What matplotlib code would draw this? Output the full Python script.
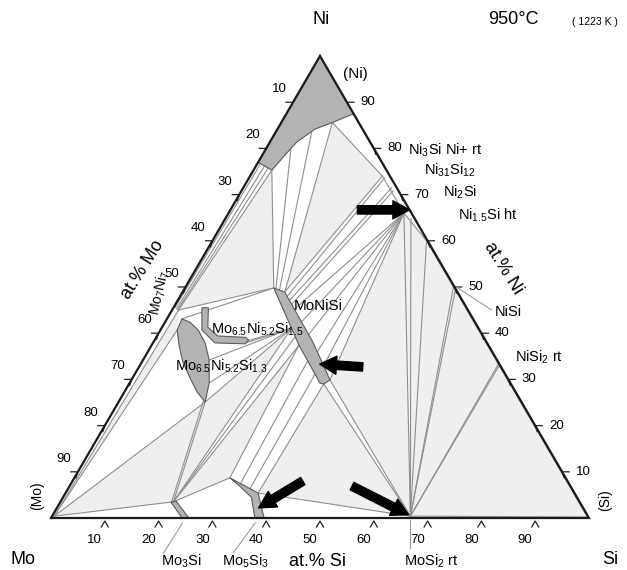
import numpy as np
import matplotlib
matplotlib.use("Agg")
import matplotlib.pyplot as plt
from matplotlib.patches import Polygon

plt.rcParams['font.family'] = ['Liberation Sans', 'DejaVu Sans']
plt.rcParams['mathtext.fontset'] = 'custom'
plt.rcParams['mathtext.rm'] = 'Liberation Sans'
plt.rcParams['mathtext.it'] = 'Liberation Sans'

# compositions are (at.% Si, at.% Ni); Mo is the balance
ni_ss = [(0, 100), (0, 77), (3.4, 75.3), (4.2, 78.5), (5.0, 81.4), (7.0, 84.2), (9.5, 85.6), (12.5, 87.5)]
mo3si = [(24.4, 0), (25.6, 0), (21.5, 3.6), (20.6, 3.4)]
mo5si3 = [(28.9, 8.7), (35.8, 5.4), (39.6, 0), (37.9, 0), (35.0, 4.5), (31.5, 7.0)]
monisi = [(16.5, 49.8), (19.0, 48.9), (29.8, 37.9), (36.9, 29.9), (36.2, 29.0), (35.4, 29.2), (27.4, 37.4)]
tau_upper = [(5.3, 45.5), (7.7, 40.7), (11.5, 37.9), (17.2, 37.7), (17.5, 38.5), (16.6, 39.1),
             (11.3, 39.4), (8.5, 41.3), (6.5, 45.5)]
tau_lower = [(2.8, 43.1), (4.6, 42.4), (7.0, 40.7), (9.7, 37.9), (12.3, 34.2), (14.8, 29.2), (16.1, 25.1),
             (13.5, 27.3), (10.7, 30.3), (7.6, 33.8), (5.1, 37.4), (3.1, 40.7)]

# invariant points
MO = (0.4, 0.4)
SI = (99.6, 0.2)
MO3SI = (21.0, 3.5)
MO5SI3_T = (28.9, 8.7)
MO5SI3_R = (35.8, 5.4)
MOSI2 = (66.6, 0.4)
NISI2 = (66.5, 33.3)
NISI = (49.8, 50.0)
NI3SI2 = (39.8, 60.0)
NI2SI = (32.6, 66.0)
NI31SI12 = (27.6, 71.5)
NI3SI = (24.6, 74.0)
NISS_L = (3.4, 75.3)
NISS_R = (9.5, 85.6)
DELTA = (1.2, 45.0)
TAU_TOP = (2.8, 43.1)
TAU_LEFT = (3.1, 40.7)
TAU_BOT = (16.1, 25.1)
MONISI_T = (16.5, 49.8)
MONISI_TR = (19.0, 48.9)
MONISI_B = (36.9, 29.9)
MONISI_BL = (36.2, 29.0)
MONISI_L = (24.2, 41.1)
MONISI_L2 = (27.4, 37.4)

three_phase = [
    (NISS_L, DELTA, MONISI_T),
    (NISS_R, NI3SI, MONISI_TR),
    (NI2SI, MONISI_B, MOSI2),
    (MONISI_BL, MO5SI3_R, MOSI2),
    (MO3SI, MO5SI3_T, MONISI_L2),
    (MO3SI, TAU_BOT, MONISI_L),
    (MO, MO3SI, TAU_BOT),
    (MO, DELTA, TAU_LEFT),
    (MOSI2, NI2SI, NI3SI2),
    (MOSI2, NI3SI2, NISI),
    (MOSI2, NISI, NISI2),
    (MOSI2, NISI2, SI),
]

tie_lines = [
    ((0.6, 76.8), (0.3, 45.6)), ((1.6, 76.2), (0.7, 45.3)), ((2.5, 75.7), (1.0, 45.1)),
    (NISS_L, DELTA), (NISS_L, MONISI_T), (DELTA, MONISI_T), (TAU_TOP, MONISI_T),
    ((4.6, 80.0), (17.0, 49.6)), ((6.6, 83.8), (17.8, 49.3)),
    (NISS_R, MONISI_TR), (NISS_R, NI3SI), ((12.5, 87.4), (24.8, 75.1)),
    (NI3SI, MONISI_TR), ((25.2, 73.6), (19.9, 47.9)),
    (NI31SI12, (20.8, 47.1)), ((28.2, 70.8), (21.6, 46.2)),
    (NI2SI, (22.6, 45.1)), (NI2SI, (25.3, 42.3)), (NI2SI, (28.0, 39.4)),
    (NI2SI, (31.5, 35.6)), (NI2SI, (34.2, 32.8)), (NI2SI, MONISI_B),
    (NI3SI, NI2SI), (NI2SI, NI3SI2), (NI3SI2, NISI), (NISI, NISI2), (NISI2, SI),
    (NI2SI, MOSI2), ((34.5, 64.8), MOSI2), (NI3SI2, MOSI2), (NISI, MOSI2), ((50.5, 49.3), MOSI2),
    (NISI2, MOSI2), ((66.8, 32.8), MOSI2), (MOSI2, SI),
    (MONISI_B, MOSI2), (MONISI_BL, MOSI2), (MO5SI3_R, MOSI2), (MO5SI3_R, MONISI_BL),
    (MO5SI3_T, MONISI_L2), ((31.5, 7.0), (30.7, 34.4)), ((33.8, 6.0), (33.5, 31.3)),
    (MO3SI, MO5SI3_T), (MO3SI, MONISI_L2), (MO3SI, (25.8, 39.4)), (MO3SI, MONISI_L),
    (MONISI_L, TAU_BOT), (MONISI_L, (14.8, 29.2)), (MONISI_L, (12.3, 34.2)),
    (MONISI_L, (17.5, 38.4)), (MONISI_L, (17.0, 37.8)),
    (TAU_BOT, MO3SI), ((15.6, 25.6), (20.7, 3.4)),
    (MO, MO3SI), (MO, TAU_BOT), (MO, TAU_LEFT), (MO, DELTA),
]

# arrows: (target, tail)
arrows = [((33.3, 66.7), (23.6, 66.7)), ((33.3, 33.3), (41.6, 32.7)),
          ((37.5, 2.2), (42.8, 8.0)), ((66.1, 0.7), (52.5, 6.9))]

ticks = [10, 20, 30, 40, 50, 60, 70, 80, 90]

W, H = 627, 570
AX_W, AX_H = 538, 462


def tern(si, ni):
    si = np.asarray(si, float)
    ni = np.asarray(ni, float)
    return si / 100 + ni / 200, ni / 100


def xy(pt):
    x, y = tern(pt[0], pt[1])
    return float(x), float(y)


def poly(pts):
    return np.column_stack(tern([p[0] for p in pts], [p[1] for p in pts]))


fig = plt.figure(figsize=(W / 100, H / 100), dpi=100)
ax = fig.add_axes([51 / W, (H - 518) / H, AX_W / W, AX_H / H])
ax.set_xlim(0, 1)
ax.set_ylim(0, 1)
ax.axis('off')

grey = '#8f8f8f'

for tri in three_phase:
    ax.add_patch(Polygon(poly(tri), closed=True, fc='#efefef', ec='none', zorder=1))

for a, b in tie_lines:
    x, y = tern([a[0], b[0]], [a[1], b[1]])
    ax.plot(x, y, color=grey, lw=0.8, zorder=2)

for region in [ni_ss, mo3si, mo5si3, monisi, tau_upper, tau_lower]:
    ax.add_patch(Polygon(poly(region), closed=True, fc='#b3b3b3', ec='#5a5a5a', lw=0.8, zorder=3))

# outline
ox, oy = tern([0, 100, 0, 0], [0, 0, 100, 0])
ax.plot(ox, oy, color='#1a1a1a', lw=1.6, zorder=5, clip_on=False, solid_joinstyle='miter')

# ticks and tick labels
px, py = 1 / AX_W, 1 / AX_H
for t in ticks:
    # bottom (Si)
    x, y = xy((t, 0))
    ax.plot([x - 3.5 * px, x, x + 3.5 * px], [y - 9 * py, y - 3 * py, y - 9 * py],
            color='#222', lw=0.9, clip_on=False)
    ax.annotate(str(t), (x, y), xytext=(-10, -22), textcoords='offset pixels',
                ha='center', va='center', fontsize=9.5)
    # left (Mo)
    x, y = xy((0, 100 - t))
    ax.plot([x - 7 * px, x, x - 2 * px], [y, y, y - 6 * py], color='#222', lw=0.9, clip_on=False)
    ax.annotate(str(t), (x, y), xytext=(-14, 13), textcoords='offset pixels',
                ha='center', va='center', fontsize=9.5)
    # right (Ni)
    x, y = xy((100 - t, t))
    ax.plot([x + 7 * px, x, x + 2 * px], [y, y, y - 6 * py], color='#222', lw=0.9, clip_on=False)
    ax.annotate(str(t), (x, y), xytext=(21, 0), textcoords='offset pixels',
                ha='center', va='center', fontsize=9.5)

# arrows
for tip, tail in arrows:
    ax.annotate('', xy=xy(tip), xytext=xy(tail),
                arrowprops=dict(arrowstyle='simple,head_length=1.2,head_width=1.3,tail_width=0.6',
                                mutation_scale=10, fc='black', ec='black', shrinkA=0, shrinkB=0),
                zorder=6)

# leader lines to labels
leaders = [((25.0, 0), (-3, -5), (-22, -35)), ((38.5, 0), (-3, -5), (-25, -35)),
           ((66.7, 0), (0, -2), (0, -30)), ((50.0, 50.0), (2, 0), (37, -23))]
for pt, o1, o2 in leaders:
    x, y = xy(pt)
    ax.plot([x + o1[0] * px, x + o2[0] * px], [y + o1[1] * py, y + o2[1] * py],
            color='#9a9a9a', lw=0.8, clip_on=False)


def put(txt, x, y, size=10, rot=0, ha='center'):
    fig.text(x / W, 1 - y / H, txt, ha=ha, va='center', fontsize=size, rotation=rot,
             rotation_mode='anchor')


put('Ni', 321, 20, 13)
put('950°C', 513, 20, 13)
put('( 1223 K )', 595, 22, 7.5)
put('(Ni)', 355, 74, 11)
put('Mo', 23, 560, 13)
put('Si', 610, 560, 13)
put('at.% Si', 317, 561, 13)
put('at.% Mo', 143, 270, 13, 58)
put('at.% Ni', 503, 268, 13, -58)
put('(Mo)', 37, 496, 10, 90)
put('(Si)', 605, 500, 10, 90)
put(r'Mo$_7$Ni$_7$', 160, 293, 10, 77)
put('MoNiSi', 318, 306, 11)
put(r'Mo$_{6.5}$Ni$_{5.2}$Si$_{1.5}$', 257, 329, 10.5)
put(r'Mo$_{6.5}$Ni$_{5.2}$Si$_{1.3}$', 221, 366, 10.5)
put(r'Ni$_3$Si Ni+ rt', 445, 150, 10.5)
put(r'Ni$_{31}$Si$_{12}$', 450, 170, 10.5)
put(r'Ni$_2$Si', 460, 192, 10.5)
put(r'Ni$_{1.5}$Si ht', 488, 215, 10.5)
put('NiSi', 508, 312, 10.5)
put(r'NiSi$_2$ rt', 539, 357, 10.5)
put(r'Mo$_3$Si', 181, 561, 10.5)
put(r'Mo$_5$Si$_3$', 245, 561, 10.5)
put(r'MoSi$_2$ rt', 431, 561, 10.5)

fig.savefig('out.png', dpi=100)
